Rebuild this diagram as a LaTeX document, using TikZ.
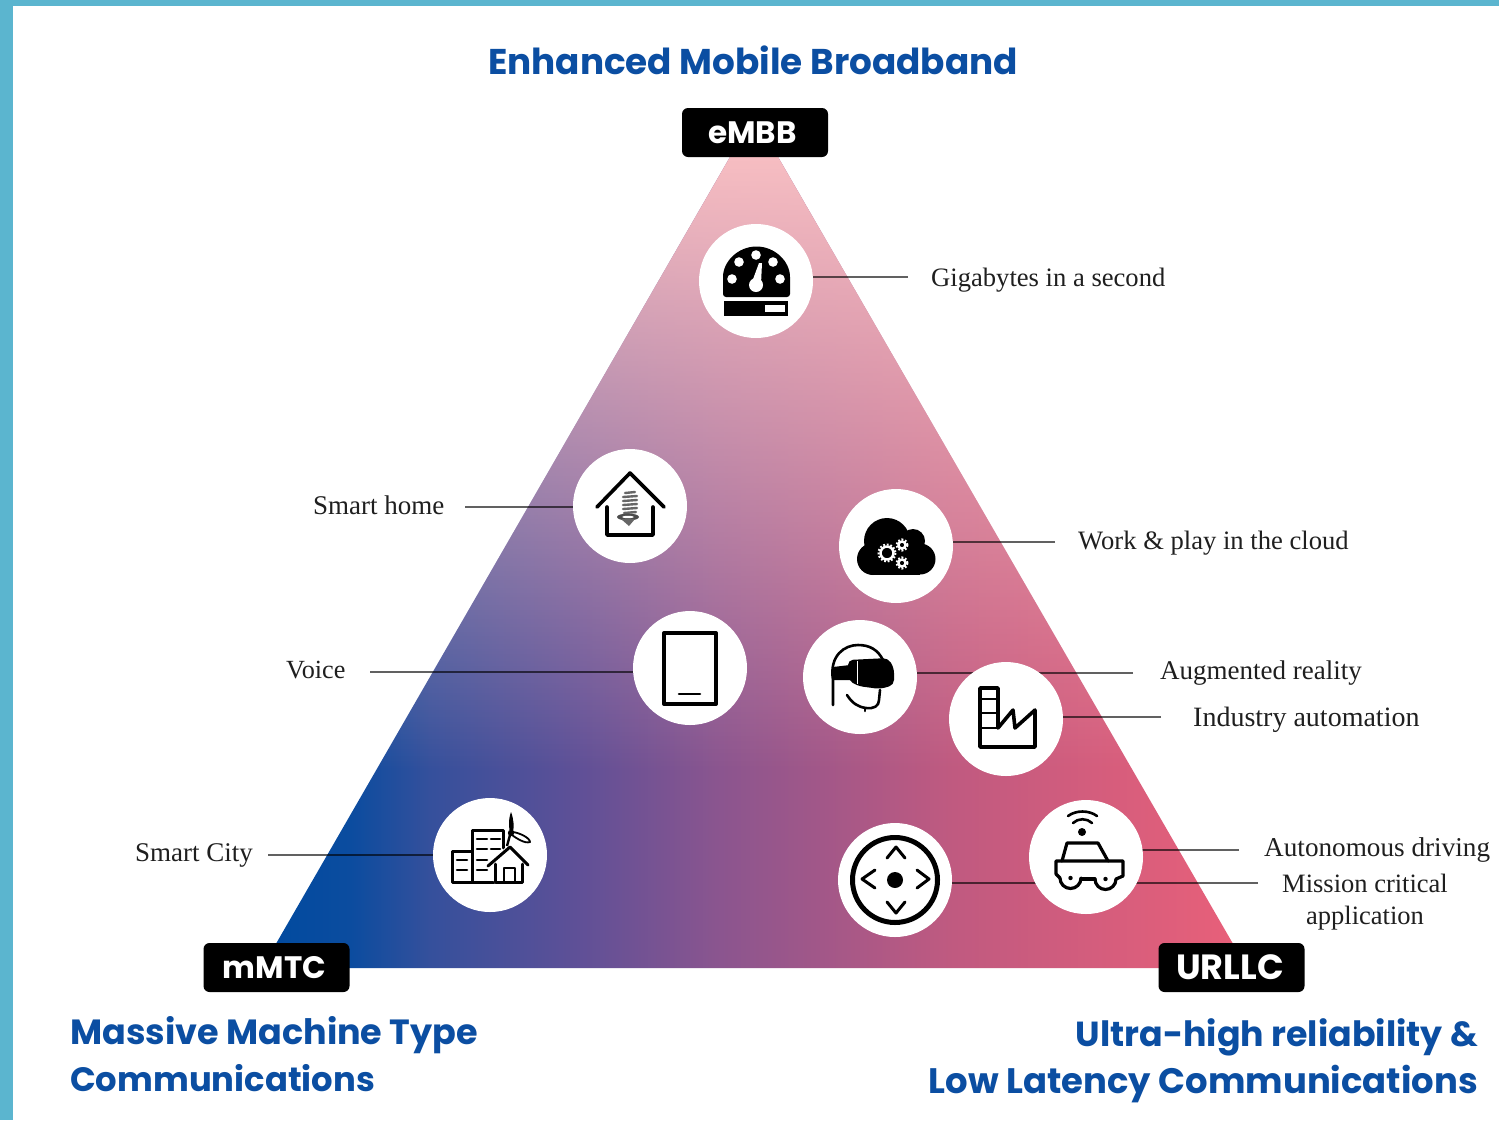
\documentclass[tikz,border=0pt]{standalone}
\usepackage{fontspec}
\usetikzlibrary{fadings,shapes.geometric}
\setmainfont{Liberation Serif}
\newfontfamily\headfont{Poppins}
\newcommand{\fsz}[1]{\fontsize{#1}{47}\selectfont}
\pgfdeclarelayer{bg}
\pgfsetlayers{bg,main}
\definecolor{framecol}{HTML}{5BB5CF}
\definecolor{headblue}{HTML}{0B4EA2}
\definecolor{toppink}{HTML}{F8BFC3}
\definecolor{g0}{HTML}{004A9F}
\definecolor{g1}{HTML}{0B4C9F}
\definecolor{g2}{HTML}{35509C}
\definecolor{g3}{HTML}{5F5097}
\definecolor{g4}{HTML}{8A558F}
\definecolor{g5}{HTML}{C05A80}
\definecolor{g6}{HTML}{EA6079}
\pgfdeclarehorizontalshading{basegrad}{100bp}{color(0bp)=(g0); color(25bp)=(g0); color(29.5bp)=(g1); color(33.5bp)=(g2); color(41bp)=(g3); color(48bp)=(g4); color(60bp)=(g5); color(75bp)=(g6); color(100bp)=(g6)}
\tikzfading[name=vfade, top color=transparent!0, bottom color=transparent!100]
\tikzset{
  every picture/.style={line join=round},
  iconcircle/.style={circle,fill=white,minimum size=114pt,inner sep=0pt},
  tagbox/.style={fill=black,rounded corners=6pt,minimum width=146pt,minimum height=49pt,inner sep=0pt,text=white,font=\headfont\bfseries\fontsize{31}{31}\selectfont},
  headtext/.style={text=headblue,inner sep=0pt,font=\headfont\bfseries\fsz{35}},
  labeltext/.style={text=black!88,inner sep=0pt,font=\fontsize{27}{32}\selectfont},
  connector/.style={draw=black,opacity=.62,line width=2pt},
  icon/.style={draw=black,line width=3.6pt,line cap=round},
  iconthin/.style={draw=black,line width=2.6pt,line cap=round},
}
\begin{document}
\begin{tikzpicture}[x=1pt,y=-1pt]
\useasboundingbox (0,0) rectangle (1499,1120);
\begin{pgfonlayer}{bg}
  \fill[white] (0,0) rectangle (1499,1120);
  \fill[framecol] (0,0) rectangle (1499,6);
  \fill[framecol] (0,0) rectangle (13,1120);
  \begin{scope}
    \clip (754,115.4) -- (262,968) -- (1247,968) -- cycle;
    \shade[shading=basegrad] (262,115) rectangle (1250,968);
    \fill[toppink] (262,115) rectangle (1250,152);
    \fill[toppink,path fading=vfade] (262,151) rectangle (1250,770);
  \end{scope}
\end{pgfonlayer}

% headings
\node[headtext,anchor=center,font=\headfont\bfseries\fsz{35.8}] (hEmbb) at (753,60) {Enhanced Mobile Broadband};
\node[headtext,anchor=north west,align=left] (hMmtc) at (70,1016) {\fsz{35}Massive Machine Type\\\fsz{33.8}Communications};
\node[headtext,anchor=north east,align=right] (hUrllc) at (1478,1018) {\fsz{34.8}Ultra-high reliability \&\\\fsz{35.4}Low Latency Communications};

% tags
\node[tagbox] (embb) at (755,132.5) {eMBB\hspace*{5pt}};
\node[tagbox] (mmtc) at (276.5,967.5) {mMTC\hspace*{4pt}};
\node[tagbox,font=\headfont\bfseries\fontsize{35}{35}\selectfont] (urllc) at (1231.5,967.5) {URLLC\hspace*{3pt}};

% circles
\node[iconcircle] (gauge) at (756,281) {};
\node[iconcircle] (home) at (630,506) {};
\node[iconcircle] (cloud) at (896,546) {};
\node[iconcircle] (tablet) at (690,668) {};
\node[iconcircle] (vr) at (860,677) {};
\node[iconcircle] (factory) at (1006,719) {};
\node[iconcircle] (city) at (490,855) {};
\node[iconcircle] (dpad) at (895,880) {};
\node[iconcircle] (car) at (1086,857) {};

% labels
\node[labeltext,anchor=west,font=\fontsize{26.6}{32}\selectfont] (lGiga) at (931,280) {Gigabytes in a second};
\node[labeltext,anchor=west] (lHome) at (313,505) {Smart home};
\node[labeltext,anchor=west,font=\fontsize{26.6}{32}\selectfont] (lWork) at (1078,543) {Work \& play in the cloud};
\node[labeltext,anchor=west,font=\fontsize{26.2}{32}\selectfont] (lVoice) at (286,670) {Voice};
\node[labeltext,anchor=west] (lAr) at (1160,673.5) {Augmented reality};
\node[labeltext,anchor=west,font=\fontsize{28}{32}\selectfont] (lInd) at (1193,720) {Industry automation};
\node[labeltext,anchor=west] (lCity) at (135,855) {Smart City};
\node[labeltext,anchor=west,font=\fontsize{27.2}{32}\selectfont] (lAuto) at (1264,850) {Autonomous driving};
\node[labeltext,anchor=center,align=center,font=\fontsize{26.5}{32}\selectfont] (lMission) at (1365,902) {Mission critical\\application};

% connector free ends
\coordinate (eGiga) at (908,277);
\coordinate (eHome) at (465,507);
\coordinate (eWork) at (1055,542);
\coordinate (eVoice) at (370,672);
\coordinate (eAr) at (1133,673);
\coordinate (eInd) at (1161,717);
\coordinate (eCity) at (268,855);
\coordinate (eAuto) at (1239,850);
\coordinate (eMission) at (1258,883);
\begin{pgfonlayer}{bg}
  \draw[connector] (eGiga) -- (eGiga -| gauge);
  \draw[connector] (eHome) -- (eHome -| home);
  \draw[connector] (eWork) -- (eWork -| cloud);
  \draw[connector] (eVoice) -- (eVoice -| tablet);
  \draw[connector] (eAr) -- (eAr -| vr);
  \draw[connector] (eInd) -- (eInd -| factory);
  \draw[connector] (eCity) -- (eCity -| city);
  \draw[connector] (eAuto) -- (eAuto -| car);
  \draw[connector] (eMission) -- (eMission -| dpad);
\end{pgfonlayer}

% --- gauge icon
\fill[black,rounded corners=3pt] (723,297) -- (723,280) arc[start angle=180,end angle=360,radius=33.5] -- (790,297) -- cycle;
\fill[white] (732,279) circle (4.8) (739,262) circle (4.8) (756,255) circle (4.8) (773,262) circle (4.8) (780,279) circle (4.8) (756,285) circle (7);
\fill[white] (752,282) -- (759,263) -- (762,263) -- (761,284) -- cycle;
\fill[black] (724,301) rectangle (788,316);
\fill[white] (765,305) rectangle (785,312);

% --- home icon
\draw[icon] (597,507) -- (630,473) -- (664,507);
\draw[icon] (607,507) -- (607,535) -- (653,535) -- (653,507);
\foreach \yy/\ww in {493/5,497/7,501/7,505/7,509/7,513/6} \draw[black!60,line width=2.4pt,line cap=round] (630-\ww,\yy) -- (630+\ww,\yy-1);
\fill[black!70] (628,517) ellipse (11 and 3.5);
\fill[black!60] (621,519) -- (635,519) -- (629,526) -- cycle;
\fill[white] (628,517) ellipse (6 and 1.2);

% --- cloud icon
\fill[black] (887,541) circle (23);
\fill[black] (913,541) circle (12);
\fill[black] (873,559) circle (16);
\fill[black] (920,559) circle (15.5);
\fill[black] (873,545) rectangle (920,575);
\foreach \cx/\cy/\rr in {887/553/6.5,902/545/3.6,902/563/3.6} {
  \draw[white,line width=2.5pt] (\cx,\cy) circle (\rr);
  \draw[white,line width=2pt,dash pattern=on 1.8pt off 1.8pt] (\cx,\cy) circle (\rr+2);
}

% --- tablet icon
\draw[icon,line cap=butt,line width=4pt] (664,633) rectangle (716,704);
\draw[iconthin] (679,694) -- (700,694);

% --- vr icon
\draw[iconthin] (833,705) -- (833,680) .. controls (829,655) and (845,645) .. (858,645) .. controls (870,645) and (878,650) .. (883,660);
\fill[black] (833,667) -- (850,665) -- (850,680) -- (833,680) -- cycle;
\fill[black,rounded corners=5pt] (848,660) -- (888,658) -- (894,668) -- (894,685) -- (880,689) -- (858,686) -- (848,680) -- cycle;
\fill[white] (856.5,661) -- (858,661) -- (858,684) -- (856.5,684) -- cycle;
\draw[iconthin] (847,695) .. controls (852,703) and (858,707) .. (866,708) .. controls (874,709) and (879,706) .. (879,700) -- (880,690);
\draw[iconthin] (865,708) -- (865,711);

% --- factory icon
\draw[icon,line cap=butt] (980,747) -- (980,688) -- (998,688) -- (998,728) -- (1013,710) -- (1015,728) -- (1035,710) -- (1035,747) -- cycle;
\draw[iconthin,line cap=butt] (980,699) -- (998,699) (980,713) -- (998,713) (980,728) -- (998,728);

% --- city icon
\draw[iconthin,line width=3pt] (472,882) -- (452,882) -- (452,851) -- (472,851);
\draw[iconthin,line width=3pt] (472,882) -- (472,830) -- (503,830) -- (503,848);
\draw[iconthin,line width=3pt] (472,882) -- (497,882);
\draw[iconthin] (457,860) -- (467,860) (457,870) -- (467,870)
  (477,839) -- (487,839) (491,839) -- (500,839)
  (477,849) -- (487,849) (491,849) -- (500,849)
  (477,860) -- (487,860) (477,870) -- (487,870);
\fill[white] (510,843) -- (487,866) -- (495,884) -- (525,884) -- (530,866) -- cycle;
\draw[iconthin,line width=3pt] (488,866) -- (510,847) -- (528,865);
\draw[iconthin,line width=3pt] (495,864) -- (495,882) -- (522,882) -- (522,864);
\draw[iconthin,line width=2.2pt] (504,881) -- (504,868) -- (515,868) -- (515,881);
\fill[black] (511,812) .. controls (508,820) and (509,828) .. (510,833) -- (513,833) .. controls (514,826) and (514,820) .. (511,812) -- cycle;
\draw[line width=1.8pt] (513,832) .. controls (520,833) and (530,838) .. (530,842) .. controls (525,844) and (516,838) .. (512,835);
\draw[line width=2.4pt] (510,835) -- (507,846);
\fill[black] (511,833) circle (3.2);

% --- dpad icon
\draw[draw=black,line width=5pt] (dpad) circle (42.5);
\fill[black] (dpad) circle (8);
\draw[iconthin,line width=3pt] (887,858) -- (896,847) -- (905,858)
  (887,902) -- (896,913) -- (905,902)
  (875,870) -- (862,879) -- (875,888)
  (917,870) -- (929,879) -- (917,888);

% --- car icon
\fill[black] (1082,832) circle (4);
\draw[iconthin] (1073,823) .. controls (1078,818) and (1087,818) .. (1092,823);
\draw[iconthin] (1068,816) .. controls (1076,810) and (1089,810) .. (1097,816);
\draw[iconthin,line width=3.2pt] (1062,861) -- (1067,843) -- (1098,843) -- (1108,861);
\draw[iconthin,line width=3.2pt] (1060,878) -- (1056,874) -- (1056,861) -- (1123,861) -- (1123,876) -- (1116,879);
\draw[iconthin,line width=3.2pt] (1081,879) -- (1095,879);
\draw[iconthin,line width=3.2pt] (1060,878) arc[start angle=180,end angle=0,radius=10.5];
\draw[iconthin,line width=3.2pt] (1095,879) arc[start angle=180,end angle=0,radius=10.5];
\fill[black] (1070.5,878) circle (2.2);
\fill[black] (1105.5,879) circle (2.2);
\end{tikzpicture}
\end{document}
